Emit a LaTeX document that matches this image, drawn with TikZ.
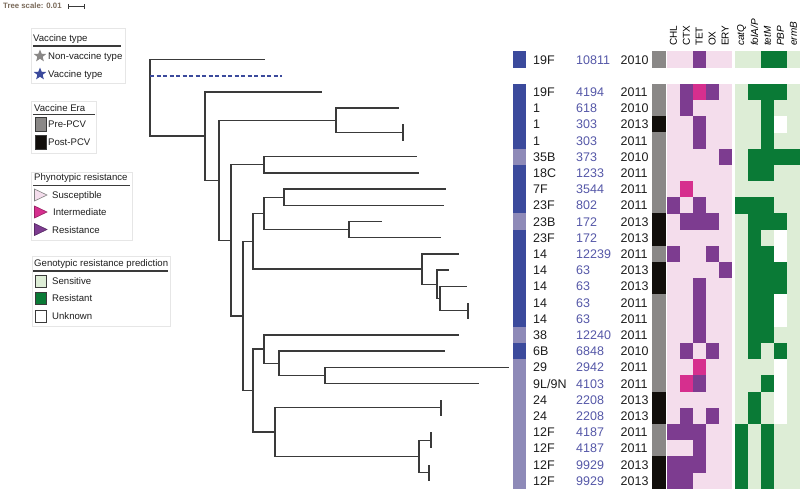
\documentclass[tikz,border=0pt]{standalone}
\usepackage{fontspec}
\setmainfont{Liberation Sans}
\usetikzlibrary{shapes.geometric}
\definecolor{vdark}{HTML}{3B4A9C}
\definecolor{vlight}{HTML}{8E8AB8}
\definecolor{sttext}{HTML}{5558A8}
\definecolor{labc}{HTML}{1E1E1E}
\definecolor{erapre}{HTML}{8A8887}
\definecolor{erapost}{HTML}{110E0B}
\definecolor{phbg}{HTML}{F4DDEC}
\definecolor{phR}{HTML}{7D3C90}
\definecolor{phI}{HTML}{D62F8E}
\definecolor{gebg}{HTML}{DDEDD6}
\definecolor{geR}{HTML}{0A7A36}
\definecolor{treec}{HTML}{3A3A3A}
\definecolor{legbox}{HTML}{E6E6E6}
\definecolor{scalec}{HTML}{7A6A5A}
\newcommand\phcell[3]{\ifcase#3\relax\or\fill[phI] ({667+12.9*#1},{#2-8.2}) rectangle ++(12.9,16.4);\or\fill[phR] ({667+12.9*#1},{#2-8.2}) rectangle ++(12.9,16.4);\fi}
\newcommand\gecell[3]{\ifcase#3\relax\or\fill[geR] ({735+13*#1},{#2-8.2}) rectangle ++(13,16.4);\or\fill[white] ({735+13*#1},{#2-8.2}) rectangle ++(13,16.4);\fi}
\begin{document}
\begin{tikzpicture}[x=1pt,y=-1pt,
 branch/.style={draw=treec,line width=1.25pt},
 dashbranch/.style={draw=vdark,line width=1.6pt,dash pattern=on 4pt off 2.5pt},
 lab/.style={anchor=base west,inner sep=0pt,font=\fontsize{12.5}{14}\selectfont,text=labc},
 hdr/.style={rotate=90,anchor=west,inner sep=0pt,font=\fontsize{10}{12}\selectfont,text=black},
 legtxt/.style={anchor=base west,inner sep=0pt,font=\fontsize{9.6}{11}\selectfont,text=labc},
 legframe/.style={draw=legbox,line width=0.6pt},
 legrule/.style={draw=treec,line width=1.1pt},
 legsq/.style={draw=treec,line width=0.6pt},
 legstar/.style={star,star points=5,star point ratio=2.3,minimum size=13pt,inner sep=0pt,draw=none}]
\useasboundingbox (0,0) rectangle (800,490);
\fill[white] (0,0) rectangle (800,490);

% tree scale
\node[anchor=west,inner sep=0pt,font=\bfseries\fontsize{7.8}{9}\selectfont,text=scalec] (ts) at (3,6) {Tree scale: 0.01};
\coordinate (sb1) at (68,6); \coordinate (sb2) at (84,6);
\draw[treec,line width=0.8pt] (sb1) -- (sb2);
\draw[treec,line width=0.8pt] ([yshift=-2.5pt]sb1) -- ([yshift=2.5pt]sb1);
\draw[treec,line width=0.8pt] ([yshift=-2.5pt]sb2) -- ([yshift=2.5pt]sb2);

% ---------- legends ----------
\draw[legframe] (31,28) rectangle (125,83);
\node[legtxt] (lt1) at (33,41.4) {Vaccine type};
\draw[legrule] (33,46) -- (121,46);
\node[legstar,fill=erapre] (s1) at (40,56) {};
\node[legtxt] (t11) at (48,59.4) {Non-vaccine type};
\node[legstar,fill=vdark] (s2) at (40,74) {};
\node[legtxt] (t12) at (48,77.4) {Vaccine type};

\draw[legframe] (31.7,101) rectangle (96.7,153);
\node[legtxt] (lt2) at (34,111) {Vaccine Era};
\draw[legrule] (33,114.5) -- (95,114.5);
\draw[legsq,fill=erapre] (35,117.5) rectangle (46.7,131.5);
\node[legtxt] (t21) at (48,127.7) {Pre-PCV};
\draw[legsq,fill=erapost] (35,135.5) rectangle (46.7,149);
\node[legtxt] (t22) at (48,145.4) {Post-PCV};

\draw[legframe] (31.7,172) rectangle (132.7,240);
\node[legtxt] (lt3) at (34,180.7) {Phynotypic resistance};
\draw[legrule] (33,185.5) -- (130,185.5);
\draw[draw=gray,fill=phbg,line width=0.6pt] (34.5,189) -- (47,195) -- (34.5,201) -- cycle;
\node[legtxt] (t31) at (52,198.4) {Susceptible};
\draw[draw=phI!70!black,fill=phI,line width=0.6pt] (34.5,206) -- (47,212) -- (34.5,218) -- cycle;
\node[legtxt] (t32) at (53,215.4) {Intermediate};
\draw[draw=phR!70!black,fill=phR,line width=0.6pt] (34.5,223.5) -- (47,229.5) -- (34.5,235.5) -- cycle;
\node[legtxt] (t33) at (52,233) {Resistance};

\draw[legframe] (32,256.7) rectangle (170,326.7);
\node[legtxt] (lt4) at (34,266.5) {Genotypic resistance prediction};
\draw[legrule] (33,271) -- (168,271);
\draw[legsq,fill=gebg] (35,275.5) rectangle (46.7,287.5);
\node[legtxt] (t41) at (52,284.8) {Sensitive};
\draw[legsq,fill=geR] (35,292.5) rectangle (46.7,304.5);
\node[legtxt] (t42) at (52,301.8) {Resistant};
\draw[legsq,fill=white] (35,310) rectangle (46.7,322);
\node[legtxt] (t43) at (52,319.4) {Unknown};

% ---------- tree ----------
\coordinate (R) at (150,97.8);
\coordinate (l0) at (265,59.5);
\coordinate (d) at (282,75.7);
\coordinate (N1) at (205,136.1);
\coordinate (l2) at (322,91.9);
\coordinate (N2) at (219,180.3);
\coordinate (N3) at (336,120.25);
\coordinate (l3) at (399,108.1);
\coordinate (N3b) at (403,132.4);
\coordinate (l4) at (403,124.3);
\coordinate (l5) at (403,140.5);
\coordinate (N4) at (231,240.35);
\coordinate (N5) at (264,164.8);
\coordinate (l6) at (417,156.7);
\coordinate (l7) at (419,172.9);
\coordinate (N6) at (243,315.9);
\coordinate (N7) at (253,241.25);
\coordinate (N9) at (264,213.4);
\coordinate (N11) at (284,197.2);
\coordinate (l8) at (446,189.1);
\coordinate (l9) at (444,205.3);
\coordinate (N12) at (349,229.6);
\coordinate (l10) at (382,221.5);
\coordinate (l11) at (441,237.7);
\coordinate (N10) at (422,269.1);
\coordinate (l12) at (459,253.9);
\coordinate (N13) at (437,284.3);
\coordinate (l13) at (449,270.1);
\coordinate (N14) at (440,298.45);
\coordinate (l14) at (467,286.3);
\coordinate (N15) at (468,310.6);
\coordinate (l15) at (468,302.5);
\coordinate (l16) at (468,318.7);
\coordinate (N8) at (253,390.6);
\coordinate (N16) at (264,349.1);
\coordinate (l17) at (459,334.9);
\coordinate (N18) at (279,363.25);
\coordinate (l18) at (445,351.1);
\coordinate (N19) at (325,375.4);
\coordinate (l19) at (509,367.3);
\coordinate (l20) at (479,383.5);
\coordinate (N17) at (275,432.1);
\coordinate (N20) at (441,407.8);
\coordinate (l21) at (441,399.7);
\coordinate (l22) at (441,415.9);
\coordinate (N21) at (419,456.4);
\coordinate (N22) at (431,440.2);
\coordinate (l23) at (431,432.1);
\coordinate (l24) at (431,448.3);
\coordinate (N23) at (429,472.6);
\coordinate (l25) at (429,464.5);
\coordinate (l26) at (429,480.7);
\foreach \p/\c in {R/l0,R/N1,N1/l2,N1/N2,N2/N3,N2/N4,N3/l3,N3/N3b,N3b/l4,N3b/l5,
  N4/N5,N4/N6,N5/l6,N5/l7,N6/N7,N6/N8,N7/N9,N7/N10,N9/N11,N9/N12,N11/l8,N11/l9,
  N12/l10,N12/l11,N10/l12,N10/N13,N13/l13,N13/N14,N14/l14,N14/N15,N15/l15,N15/l16,
  N8/N16,N8/N17,N16/l17,N16/N18,N18/l18,N18/N19,N19/l19,N19/l20,N17/N20,N17/N21,
  N20/l21,N20/l22,N21/N22,N21/N23,N22/l23,N22/l24,N23/l25,N23/l26}
  \draw[branch] (\p) |- (\c);
\draw[dashbranch] (R |- d) -- (d);

% ---------- heatmap backgrounds ----------
\fill[phbg] (667,51.4) rectangle (732,67.6);
\fill[phbg] (667,83.8) rectangle (732,488.8);
\fill[gebg] (735,51.4) rectangle (800,67.6);
\fill[gebg] (735,83.8) rectangle (800,488.8);

% ---------- rows ----------
\foreach \k/\se/\st/\yr/\vc/\ec/\pa/\pb/\pc/\pd/\pe/\ga/\gb/\gc/\gd/\gf in {
 0/19F/10811/2010/vdark/erapre/0/0/2/0/0/0/0/1/1/0,
 2/19F/4194/2011/vdark/erapre/0/2/1/2/0/0/1/1/1/0,
 3/1/618/2010/vdark/erapre/0/2/0/0/0/0/0/1/0/0,
 4/1/303/2013/vdark/erapost/0/0/2/0/0/0/0/1/2/0,
 5/1/303/2011/vdark/erapre/0/0/2/0/0/0/0/1/0/0,
 6/35B/373/2010/vlight/erapre/0/0/0/0/2/0/1/1/1/1,
 7/18C/1233/2011/vdark/erapre/0/0/0/0/0/0/1/1/0/0,
 8/7F/3544/2011/vdark/erapre/0/1/0/0/0/0/0/0/0/0,
 9/23F/802/2011/vdark/erapre/2/0/2/0/0/1/1/1/0/0,
 10/23B/172/2013/vlight/erapost/0/2/2/2/0/0/1/1/1/0,
 11/23F/172/2013/vdark/erapost/0/0/0/0/0/0/1/0/2/0,
 12/14/12239/2011/vdark/erapre/2/0/0/2/0/0/1/1/2/0,
 13/14/63/2013/vdark/erapost/0/0/0/0/2/0/1/1/1/0,
 14/14/63/2013/vdark/erapost/0/0/2/0/0/0/1/1/1/0,
 15/14/63/2011/vdark/erapre/0/0/2/0/0/0/1/1/2/0,
 16/14/63/2011/vdark/erapre/0/0/2/0/0/0/1/1/2/0,
 17/38/12240/2011/vlight/erapre/0/0/2/0/0/0/1/1/0/0,
 18/6B/6848/2010/vdark/erapre/0/2/0/2/0/0/1/0/1/0,
 19/29/2942/2011/vlight/erapre/0/0/1/0/0/0/0/0/2/0,
 20/{9L/9N}/4103/2011/vlight/erapre/0/1/2/0/0/0/0/1/2/0,
 21/24/2208/2013/vlight/erapost/0/0/0/0/0/0/1/0/2/0,
 22/24/2208/2013/vlight/erapost/0/2/0/2/0/0/1/0/2/0,
 23/12F/4187/2011/vlight/erapre/2/2/2/0/0/1/0/1/0/0,
 24/12F/4187/2011/vlight/erapre/0/0/2/0/0/1/0/1/0/0,
 25/12F/9929/2013/vlight/erapost/2/2/2/0/0/1/0/1/0/0,
 26/12F/9929/2013/vlight/erapost/2/2/0/0/0/1/0/1/0/0}{
  \pgfmathsetmacro\yy{59.5+16.2*\k}
  \fill[\vc] (512.7,\yy-8.2) rectangle ++(13,16.4);
  \fill[\ec] (652.3,\yy-8.2) rectangle ++(13.5,16.4);
  \node[lab] (se\k) at (533,\yy+4.5) {\se};
  \node[lab,text=sttext] (st\k) at (576,\yy+4.5) {\st};
  \node[lab] (yr\k) at (620.5,\yy+4.5) {\yr};
  \phcell{0}{\yy}{\pa}\phcell{1}{\yy}{\pb}\phcell{2}{\yy}{\pc}\phcell{3}{\yy}{\pd}\phcell{4}{\yy}{\pe}
  \gecell{0}{\yy}{\ga}\gecell{1}{\yy}{\gb}\gecell{2}{\yy}{\gc}\gecell{3}{\yy}{\gd}\gecell{4}{\yy}{\gf}
}

% ---------- headers ----------
\foreach \i/\t in {0/CHL,1/CTX,2/TET,3/OX,4/ERY}
  \node[hdr] (hp\i) at ({673.45+12.9*\i},46) {\t};
\foreach \i/\t in {0/catQ,1/{folA/P},2/tetM,3/PBP,4/ermB}
  \node[hdr,font=\itshape\fontsize{10}{12}\selectfont] (hg\i) at ({741.5+13*\i},46) {\t};
\end{tikzpicture}
\end{document}
